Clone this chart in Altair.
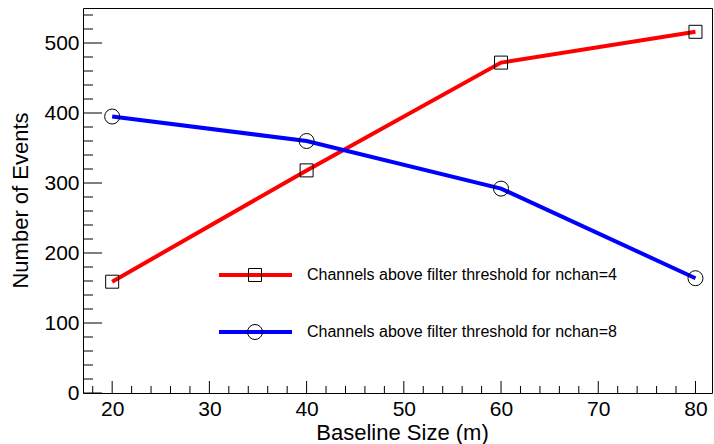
import altair as alt
import pandas as pd

baseline = [20, 40, 60, 80]
nchan4 = [159, 318, 472, 516]
nchan8 = [395, 360, 292, 164]
series_names = ["Channels above filter threshold for nchan=4",
                "Channels above filter threshold for nchan=8"]
series_colors = ["#ff0000", "#0000ff"]
series_shapes = ["square", "circle"]

y_major = [0, 100, 200, 300, 400, 500]
y_minor = [v for v in range(20, 550, 20) if v % 100 != 0]
x_major = [20, 30, 40, 50, 60, 70, 80]
x_minor = [v for v in range(18, 82, 2) if v % 10 != 0]

XDOM = [17, 81.7]
YDOM = [0, 550]
W, H = 629, 385

df = pd.DataFrame({
    "baseline": baseline * 2,
    "events": nchan4 + nchan8,
    "series": [series_names[0]] * 4 + [series_names[1]] * 4,
})
one = pd.DataFrame({"k": [0]})

xs = alt.Scale(domain=XDOM, nice=False, zero=False)
ys = alt.Scale(domain=YDOM, nice=False, zero=False)
cs = alt.Scale(domain=series_names, range=series_colors)
ss = alt.Scale(domain=series_names, range=series_shapes)
zs = alt.Scale(domain=series_names, range=[169, 225])

xaxis = alt.Axis(values=x_major, format="d", ticks=False, domain=False, grid=False,
                 labelFontSize=21, labelPadding=5, labelColor="black",
                 title="Baseline Size (m)", titleFontSize=22, titleFontWeight="normal",
                 titleColor="black", titleX=319, titleY=46, titleBaseline="alphabetic")
yaxis = alt.Axis(values=y_major, format="d", ticks=False, domain=False, grid=False,
                 labelFontSize=21, labelPadding=4, labelColor="black",
                 title="Number of Events", titleFontSize=22, titleFontWeight="normal",
                 titleColor="black", titleX=-63, titleY=192, titleAngle=270,
                 titleAlign="center", titleBaseline="middle")

lines = alt.Chart(df).mark_line(strokeWidth=4).encode(
    x=alt.X("baseline:Q", scale=xs, axis=xaxis),
    y=alt.Y("events:Q", scale=ys, axis=yaxis),
    color=alt.Color("series:N", scale=cs, legend=None),
    detail="series:N",
)
points = alt.Chart(df).mark_point(filled=False, stroke="black", strokeWidth=1, opacity=1).encode(
    x=alt.X("baseline:Q", scale=xs, axis=xaxis),
    y=alt.Y("events:Q", scale=ys, axis=yaxis),
    shape=alt.Shape("series:N", scale=ss, legend=None),
    size=alt.Size("series:N", scale=zs, legend=None),
)

ymaj = alt.Chart(pd.DataFrame({"events": y_major})).mark_rule(color="black", strokeWidth=1).encode(
    y=alt.Y("events:Q", scale=ys, axis=yaxis), x=alt.value(0), x2=alt.value(19))
ymin = alt.Chart(pd.DataFrame({"events": y_minor})).mark_rule(color="black", strokeWidth=1).encode(
    y=alt.Y("events:Q", scale=ys, axis=yaxis), x=alt.value(0), x2=alt.value(10))
xmaj = alt.Chart(pd.DataFrame({"baseline": x_major})).mark_rule(color="black", strokeWidth=1).encode(
    x=alt.X("baseline:Q", scale=xs, axis=xaxis), y=alt.value(H), y2=alt.value(H - 12))
xmin = alt.Chart(pd.DataFrame({"baseline": x_minor})).mark_rule(color="black", strokeWidth=1).encode(
    x=alt.X("baseline:Q", scale=xs, axis=xaxis), y=alt.value(H), y2=alt.value(H - 7))

legend_layers = []
leg_y = [267, 324]
for i, name in enumerate(series_names):
    ly = leg_y[i]
    legend_layers.append(
        alt.Chart(one).mark_rule(color=series_colors[i], strokeWidth=4).encode(
            x=alt.value(136), x2=alt.value(209), y=alt.value(ly)))
    legend_layers.append(
        alt.Chart(one).mark_point(shape=series_shapes[i], size=[169, 225][i], filled=False,
                                  stroke="black", strokeWidth=1, opacity=1).encode(
            x=alt.value(172), y=alt.value(ly)))
    legend_layers.append(
        alt.Chart(one).mark_text(text=name, align="left", baseline="middle", fontSize=16,
                                 color="black").encode(
            x=alt.value(224), y=alt.value(ly)))

chart = alt.layer(lines, points, ymaj, ymin, xmaj, xmin, *legend_layers).properties(
    width=W, height=H,
    autosize=alt.AutoSizeParams(type="none"),
    padding={"left": 83, "top": 8, "right": 2, "bottom": 51},
).configure(font="Liberation Sans").configure_view(stroke="black", strokeWidth=1)

chart.save("out.html", embed_options={"renderer": "svg", "actions": False})
